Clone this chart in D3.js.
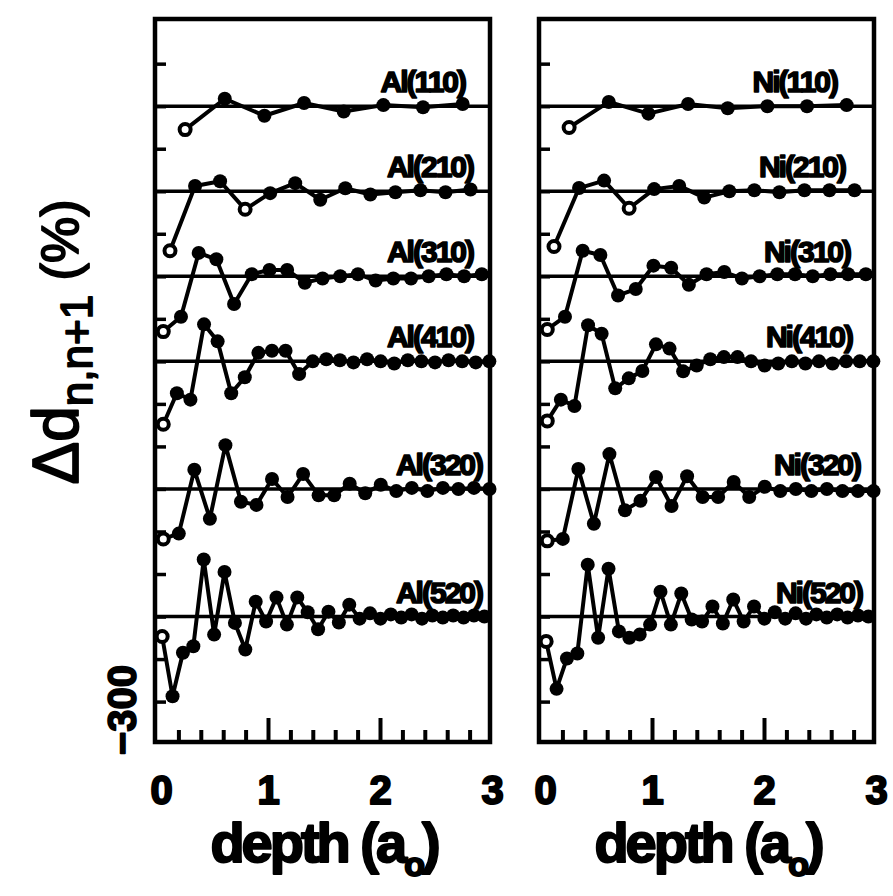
<!DOCTYPE html>
<html>
<head>
<meta charset="utf-8">
<script src="https://cdn.jsdelivr.net/npm/d3@7"></script>
<style>
body { margin: 0; background: #fff; }
svg { display: block; }
text { font-family: "Liberation Sans", Arial, sans-serif; fill: #000; }
.ink { paint-order: stroke; stroke: #000; stroke-linejoin: round; }
</style>
</head>
<body>
<div id="chart"></div>
<script>
// surfaces, stacking offsets (in %) and layer geometry (in a0)
const surfaces = ["(110)", "(210)", "(310)", "(410)", "(320)", "(520)"];
const offsets = [-20, -60, -100, -140, -200, -260];
const firstDepth = [0.26, 0.125, 0.065, 0.065, 0.065, 0.055];
const layerSpacing = [0.354, 0.2236, 0.158, 0.1213, 0.1387, 0.0928];

// relaxations Δd(n,n+1) in %
const al110 = [-11, 3.5, -4.5, 1.5, -2.5, 0.5, -0.5, 1];
const al210 = [-28, 2.5, 4.7, -8.5, -0.9, 3.8, -4, 1.4, -1.5, -0.5, 0.5, -0.5, 0.8];
const al310 = [-26, -19, 11, 8, -13, 1, 3, 3, -3, -1, 0, 1, -2, -1, -1, 0, 1, 0, 1];
const al410 = [-29.6, -15, -18, 17.4, 9.4, -15, -7.5, 4, 5, 5, -6, 0, 1, 0.5, -0.5, 1, 0, -1, 0.5, 0, -0.5, 0.5, 0, -0.5, 0];
const al320 = [-23.5, -21, 9, -14, 20.6, -6, -7.5, 4.7, -3.8, 7, -3, -3, 2.5, -2, 2, -1, 0.5, -1, 0.5, 0, 0.5, 0];
const al520 = [-9.4, -37.5, -17, -14, 26.8, -8.5, 21, -3, -15.5, 7, -2.3, 9, -3.8, 9, 2, -6, 2.3, -2.8, 5.6, -1, 1.5, -1, 1, -0.5, 1, -1, 0.5, -0.5, 0.5, -0.5, 0.5, 0];

const ni110 = [-10, 2, -3.5, 1, -1, 0, 0, 0.5];
const ni210 = [-26, 1.5, 5, -8, 1, 2.5, -3, 0, 0.5, -0.5, 0.5, 0.5, 0.5];
const ni310 = [-25, -19, 12, 10, -9, -6, 5, 4, -4, 1, 2, -1, 0, 1, 1, 0, 1, 1, 1];
const ni410 = [-28, -18, -21, 17, 13, -12.7, -8, -4.5, 8, 6, -4.7, -2, 1, 2, 2, 0, -2, -1, 0, -1, 0, -1, 0, 0, 0];
const ni320 = [-24.4, -23.5, 9.4, -16.4, 16.4, -10, -5.6, 5.6, -8, 6, -3.8, -3.8, 3.3, -3.8, 1, -1, 0, -1, 0, -1, -1, -1];
const ni520 = [-11.7, -34, -19.7, -17.4, 24.4, -10, 22.5, -7, -10, -8.5, -3.8, 11.7, -3.8, 10.8, -1.4, -2.3, 4.7, -3.3, 8, -2.3, 4.7, -1, 2, -1, 1.5, -1, 1, -0.5, 1, -0.5, 0.5, 0];

// open markers (index within each series)
const openPoints = [[0], [0, 3], [0], [0], [0], [0]];

// ticks
const yTicks = [0, -20, -40, -60, -80, -100, -120, -140, -160, -180, -200, -220, -240, -260, -280, -300];
const yTickLabels = [-300];
const xMinorTicks = [0.2, 0.4, 0.6, 0.8, 1.2, 1.4, 1.6, 1.8, 2.2, 2.4, 2.6, 2.8];
const xMajorTicks = [1, 2];
const xTickLabels = [0, 1, 2, 3];

const panels = [
  { element: "Al", series: [al110, al210, al310, al410, al320, al520], left: 156, labelInset: [27, 19, 19, 19, 10, 10], yLabel: true },
  { element: "Ni", series: [ni110, ni210, ni310, ni410, ni320, ni520], left: 540, labelInset: [39, 31, 26, 24, 16, 14], yLabel: false }
];

const width = 893, height = 896;
const panelW = 336;
const x = d3.scaleLinear().domain([0, 3]).range([0, panelW]);
const y = d3.scaleLinear().domain([-319, 21]).range([742, 19]);

const svg = d3.select("#chart").append("svg")
  .attr("width", width)
  .attr("height", height);

const line = d3.line().x(p => x(p.d)).y(p => y(p.v));

panels.forEach(panel => {
  const g = svg.append("g").attr("transform", `translate(${panel.left},0)`);

  // inward ticks on the left side
  g.append("g")
    .call(d3.axisRight(y).tickValues(yTicks).tickSize(10).tickFormat(""))
    .call(a => a.select(".domain").remove())
    .call(a => a.selectAll("line").attr("stroke", "#000").attr("stroke-width", 3.5));

  // inward ticks on the bottom
  g.append("g").attr("transform", `translate(0,${y.range()[0]})`)
    .call(d3.axisTop(x).tickValues(xMinorTicks).tickSize(12).tickFormat(""))
    .call(a => a.select(".domain").remove())
    .call(a => a.selectAll("line").attr("stroke", "#000").attr("stroke-width", 4));
  g.append("g").attr("transform", `translate(0,${y.range()[0]})`)
    .call(d3.axisTop(x).tickValues(xMajorTicks).tickSize(24).tickFormat(""))
    .call(a => a.select(".domain").remove())
    .call(a => a.selectAll("line").attr("stroke", "#000").attr("stroke-width", 4));

  // tick labels under the frame
  g.append("g").attr("transform", `translate(0,${y.range()[0]})`)
    .call(d3.axisBottom(x).tickValues(xTickLabels).tickSize(0).tickPadding(34).tickFormat(d3.format("d")))
    .call(a => a.select(".domain").remove())
    .call(a => a.selectAll("text")
      .attr("class", "ink")
      .attr("dx", d => d === 0 ? 5 : 0)
      .style("font-family", '"Liberation Sans", Arial, sans-serif')
      .style("font-weight", "bold")
      .style("font-size", "40px")
      .style("stroke-width", "2px"));

  // frame
  g.append("rect")
    .attr("x", x(0) - 1)
    .attr("y", y.range()[1])
    .attr("width", panelW - 1)
    .attr("height", y.range()[0] - y.range()[1])
    .attr("fill", "none")
    .attr("stroke", "#000")
    .attr("stroke-width", 4.5);

  panel.series.forEach((vals, k) => {
    const off = offsets[k];
    const pts = vals.map((v, i) => ({
      d: firstDepth[k] + i * layerSpacing[k],
      v: off + v,
      open: openPoints[k].includes(i)
    }));

    // zero line of this surface
    g.append("line")
      .attr("x1", x(0)).attr("x2", x(3) - 2)
      .attr("y1", y(off)).attr("y2", y(off))
      .attr("stroke", "#000").attr("stroke-width", 3.5);

    g.append("path")
      .datum(pts)
      .attr("d", line)
      .attr("fill", "none")
      .attr("stroke", "#000")
      .attr("stroke-width", 4)
      .attr("stroke-linejoin", "round");

    g.selectAll(null)
      .data(pts)
      .enter()
      .append("circle")
      .attr("cx", p => x(p.d))
      .attr("cy", p => y(p.v))
      .attr("r", p => p.open ? 5.5 : 7)
      .attr("fill", p => p.open ? "#fff" : "#000")
      .attr("stroke", "#000")
      .attr("stroke-width", p => p.open ? 4 : 0);

    g.append("text")
      .attr("class", "ink")
      .attr("x", x(3) - panel.labelInset[k])
      .attr("y", y(off) - 14)
      .attr("text-anchor", "end")
      .style("font-weight", "bold")
      .style("font-size", "30px")
      .style("letter-spacing", "-2px")
      .style("stroke-width", "1.6px")
      .text(panel.element + surfaces[k]);
  });

  // x axis title
  const t = g.append("text")
    .attr("class", "ink")
    .attr("x", panelW / 2)
    .attr("y", 862)
    .attr("text-anchor", "middle")
    .style("font-weight", "bold")
    .style("font-size", "56px")
    .style("letter-spacing", "-3px")
    .style("stroke-width", "2px");
  t.append("tspan").text("depth (a");
  t.append("tspan").attr("dy", 14).style("font-size", "34px").text("o");
  t.append("tspan").attr("dy", -14).text(")");

  if (panel.yLabel) {
    g.append("g")
      .call(d3.axisLeft(y).tickValues(yTickLabels).tickSize(0).tickFormat(d3.format("d")))
      .call(a => a.select(".domain").remove())
      .call(a => a.selectAll("text")
        .attr("class", "ink")
        .attr("x", 0)
        .attr("dy", "0.35em")
        .attr("transform", "translate(-34,8) rotate(-90)")
        .attr("text-anchor", "middle")
        .style("font-family", '"Liberation Sans", Arial, sans-serif')
        .style("font-weight", "bold")
        .style("font-size", "40px")
        .style("stroke-width", "1.6px"));
  }
});

// y axis title
const yt = svg.append("text")
  .attr("class", "ink")
  .attr("transform", "translate(78,342) rotate(-90)")
  .attr("text-anchor", "middle")
  .style("font-size", "64px")
  .style("stroke-width", "1.8px");
yt.append("tspan").text("Δd");
yt.append("tspan").attr("dy", 14).style("font-size", "44px").text("n,n+1");
yt.append("tspan").attr("dy", -14).style("font-size", "52px").text(" (%)");
</script>
</body>
</html>
